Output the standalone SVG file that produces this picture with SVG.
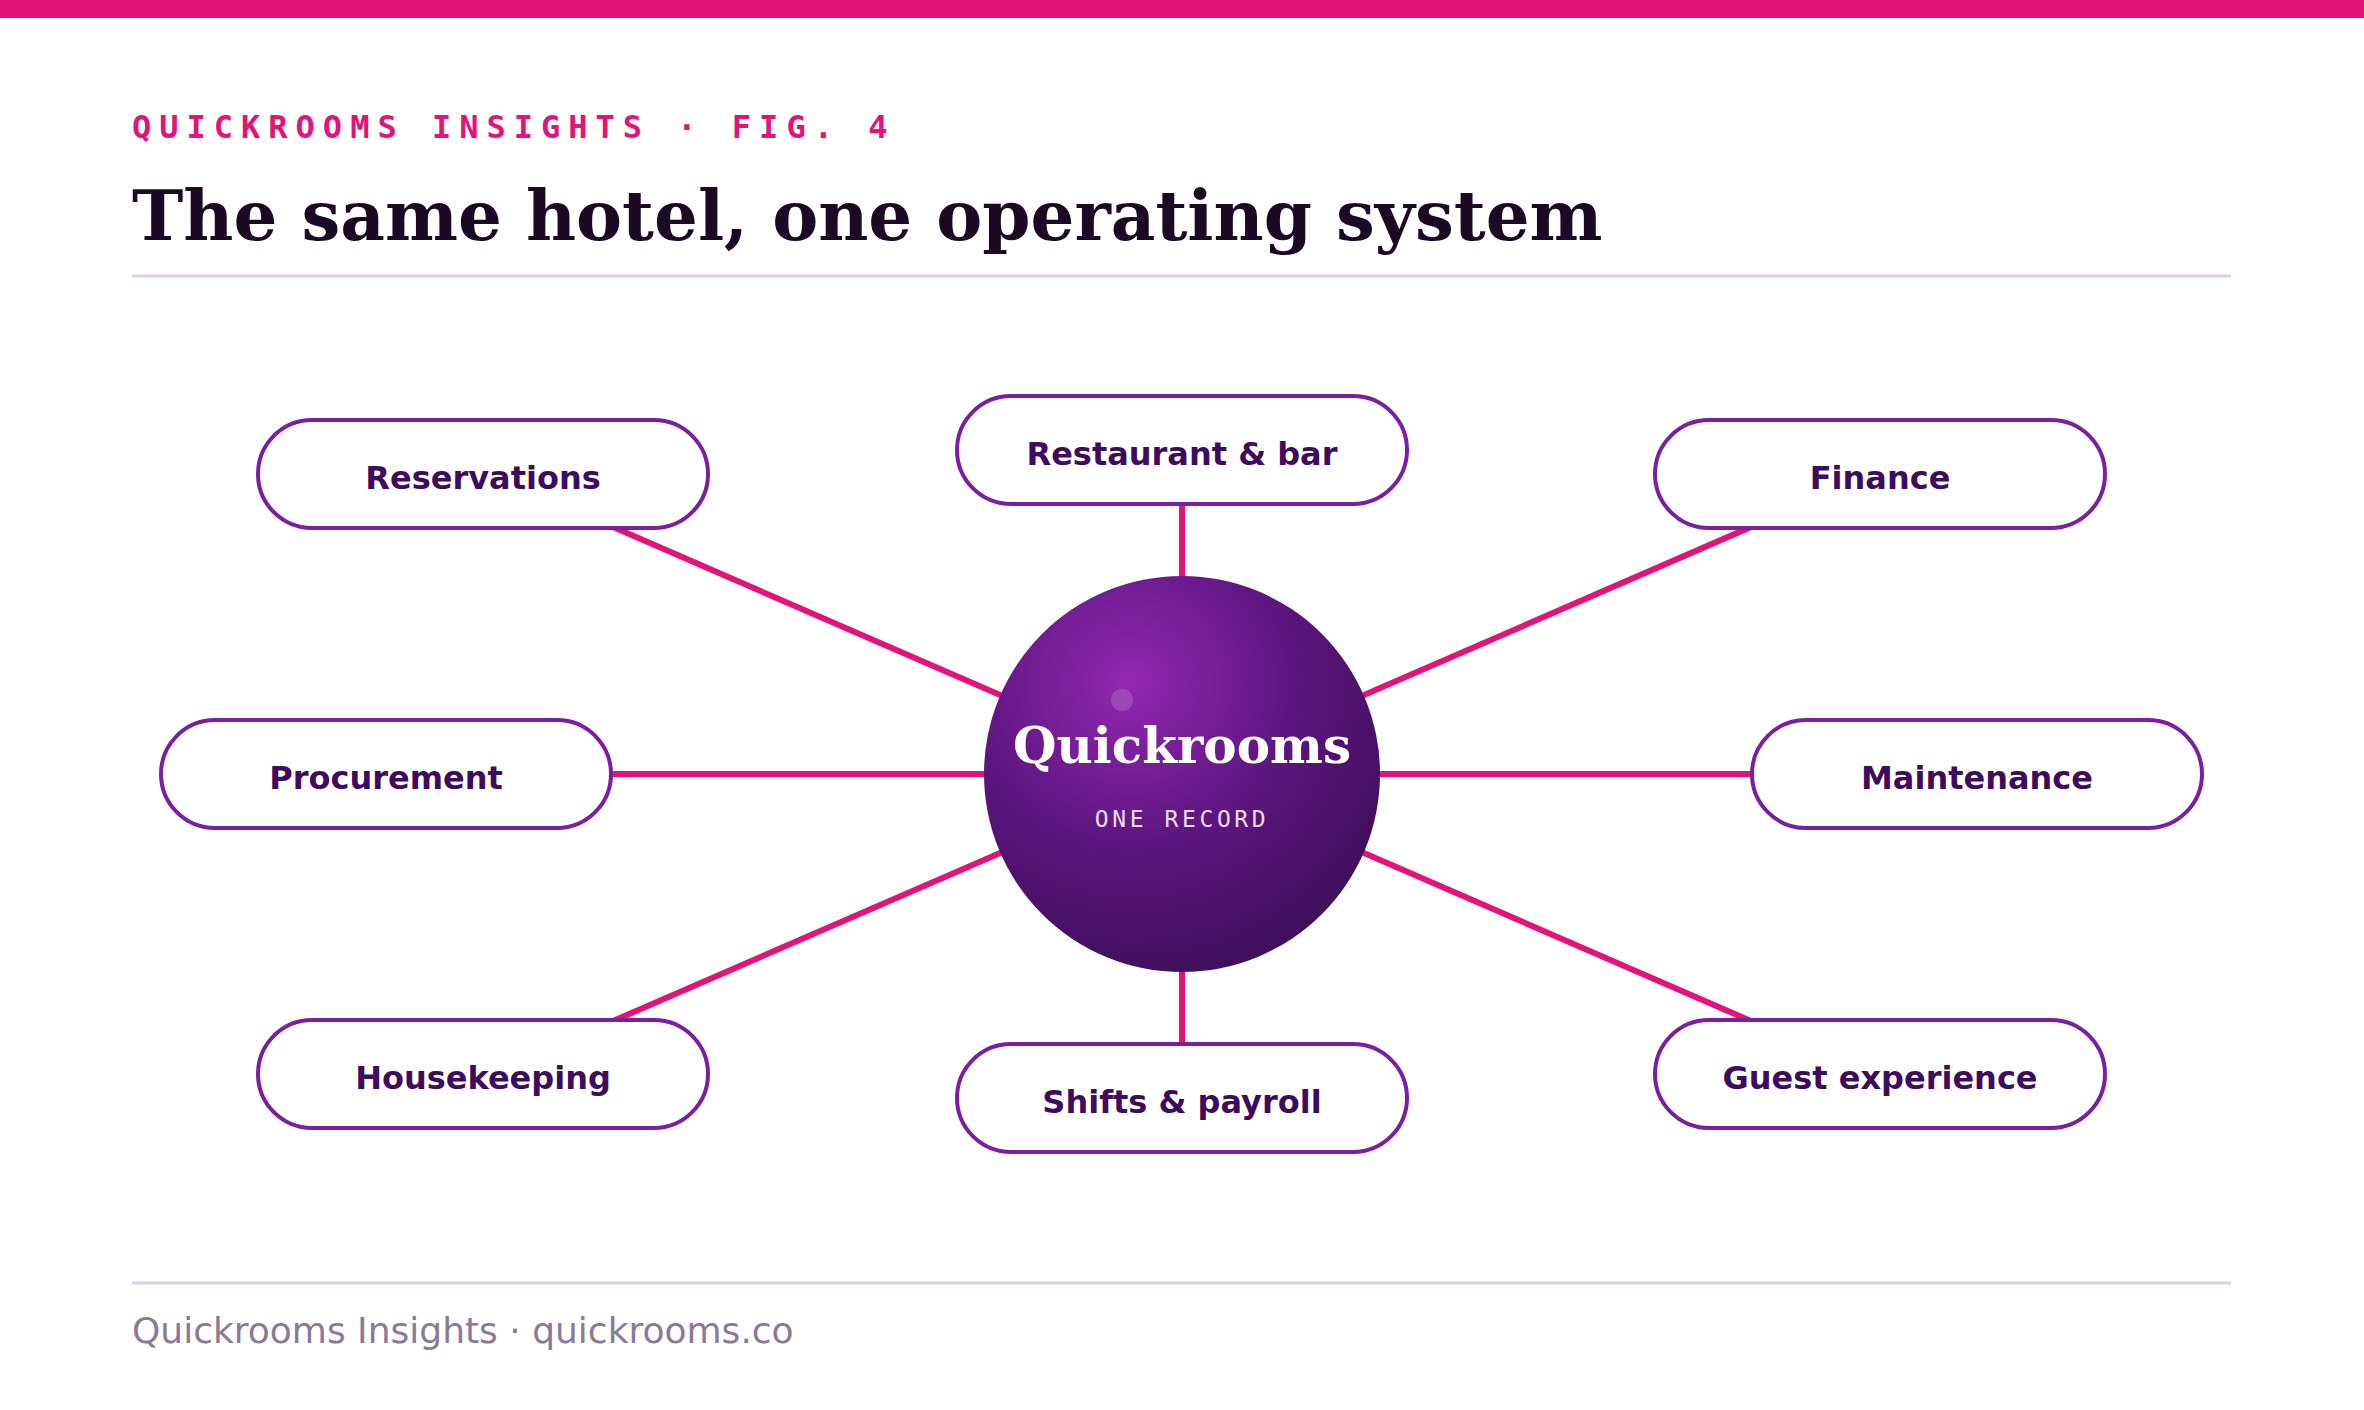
<svg xmlns="http://www.w3.org/2000/svg" width="2364" height="1410" viewBox="0 0 2364 1410">
<defs>
<style>
.pill{fill:#ffffff;stroke:#7b1fa2;stroke-width:4}
.lbl{font-family:"DejaVu Sans","Liberation Sans",sans-serif;font-weight:bold;font-size:32px;fill:#3d0c5e;text-anchor:middle}
.conn{stroke:#e2147a;stroke-width:6;fill:none}
.rule{stroke:#ddd0e8;stroke-width:3}
</style>
<radialGradient id="hub" cx="1130" cy="683" r="290" gradientUnits="userSpaceOnUse">
<stop offset="0" stop-color="#9328b2"/>
<stop offset="0.55" stop-color="#5d1680"/>
<stop offset="1" stop-color="#400f5d"/>
</radialGradient>
</defs>
<rect x="0" y="0" width="2364" height="1410" fill="#ffffff"/>
<rect x="0" y="0" width="2364" height="18" fill="#e2147a"/>
<text x="132" y="138" font-family="DejaVu Sans Mono,Liberation Mono,monospace" font-weight="bold" font-size="32" letter-spacing="8" fill="#e2147a">QUICKROOMS INSIGHTS · FIG. 4</text>
<text x="132" y="240" font-family="DejaVu Serif,Liberation Serif,serif" font-weight="bold" font-size="69" fill="#1a0a24">The same hotel, one operating system</text>
<line class="rule" x1="132" y1="276" x2="2231" y2="276"/>
<g id="connectors">
<line class="conn" x1="1182" y1="774" x2="491" y2="474"/>
<line class="conn" x1="1182" y1="774" x2="1182" y2="450"/>
<line class="conn" x1="1182" y1="774" x2="1873" y2="474"/>
<line class="conn" x1="1182" y1="774" x2="386" y2="774"/>
<line class="conn" x1="1182" y1="774" x2="1977" y2="774"/>
<line class="conn" x1="1182" y1="774" x2="491" y2="1074"/>
<line class="conn" x1="1182" y1="774" x2="1182" y2="1098"/>
<line class="conn" x1="1182" y1="774" x2="1873" y2="1074"/>
</g>
<g id="hub-node">
<circle cx="1182" cy="774" r="198" fill="url(#hub)"/>
<circle cx="1122" cy="700" r="11" fill="#ffffff" fill-opacity="0.15"/>
<text x="1182" y="763" font-family="DejaVu Serif,Liberation Serif,serif" font-weight="bold" font-size="50" fill="#ffffff" text-anchor="middle">Quickrooms</text>
<text x="1182" y="827" font-family="DejaVu Sans Mono,Liberation Mono,monospace" font-size="23" letter-spacing="3.6" fill="#eadcf2" text-anchor="middle">ONE RECORD</text>
</g>
<g id="reservations"><rect class="pill" x="258" y="420" width="450" height="108" rx="54"/><text class="lbl" x="483" y="489">Reservations</text></g>
<g id="restaurant"><rect class="pill" x="957" y="396" width="450" height="108" rx="54"/><text class="lbl" x="1182" y="465">Restaurant &amp; bar</text></g>
<g id="finance"><rect class="pill" x="1655" y="420" width="450" height="108" rx="54"/><text class="lbl" x="1880" y="489">Finance</text></g>
<g id="procurement"><rect class="pill" x="161" y="720" width="450" height="108" rx="54"/><text class="lbl" x="386" y="789">Procurement</text></g>
<g id="maintenance"><rect class="pill" x="1752" y="720" width="450" height="108" rx="54"/><text class="lbl" x="1977" y="789">Maintenance</text></g>
<g id="housekeeping"><rect class="pill" x="258" y="1020" width="450" height="108" rx="54"/><text class="lbl" x="483" y="1089">Housekeeping</text></g>
<g id="shifts"><rect class="pill" x="957" y="1044" width="450" height="108" rx="54"/><text class="lbl" x="1182" y="1113">Shifts &amp; payroll</text></g>
<g id="guest"><rect class="pill" x="1655" y="1020" width="450" height="108" rx="54"/><text class="lbl" x="1880" y="1089">Guest experience</text></g>
<line class="rule" x1="132" y1="1283" x2="2231" y2="1283"/>
<text x="132" y="1343" font-family="DejaVu Sans,Liberation Sans,sans-serif" font-size="36" fill="#8a7a96">Quickrooms Insights · quickrooms.co</text>
</svg>
